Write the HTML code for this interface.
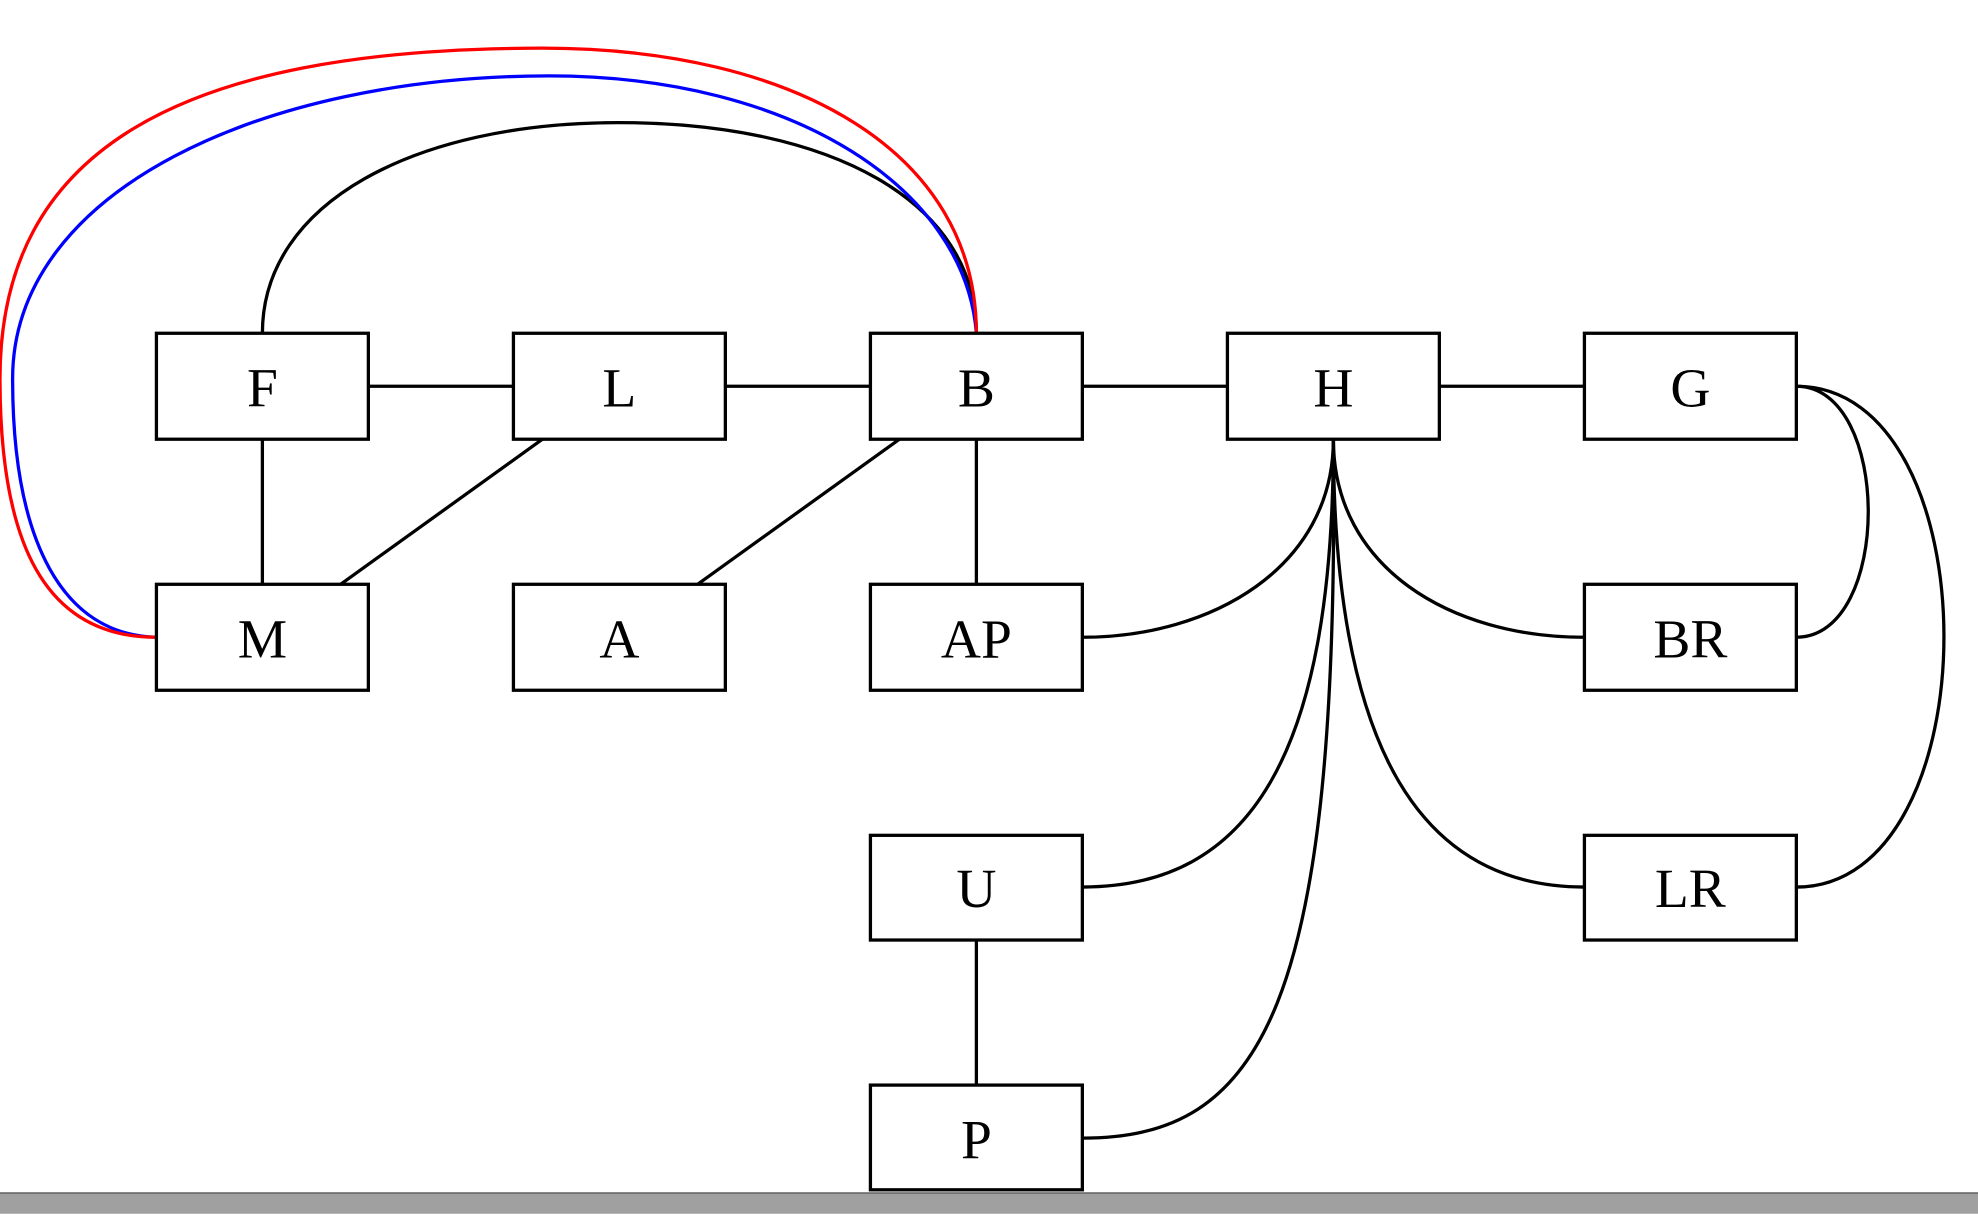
<!DOCTYPE html>
<html><head><meta charset="utf-8"><style>
html,body{margin:0;padding:0;background:#fff;width:1978px;height:1214px;overflow:hidden}
svg{display:block}
text{font-family:"Liberation Serif",serif;font-size:44px;text-anchor:middle;dominant-baseline:central}
</style></head><body>
<svg width="1978" height="1214" viewBox="0 0 1568 962" xmlns="http://www.w3.org/2000/svg">
<rect x="0" y="945" width="1568" height="17" fill="#a0a0a0"/>
<line x1="0" y1="945.5" x2="1568" y2="945.5" stroke="#555" stroke-width="1"/>
<g fill="none" stroke="#000" stroke-width="2.6">
<path d="M292,306H407M575,306H690M858,306H973M1141,306H1256"/>
<path d="M208,348V463M430,348L270,463M713,348L553,463M774,348V463M774,745V860"/>
<path d="M208,264C208,160 330,97 490,97C660,97 774,160 774,264"/>
<path d="M1057,348C1057,450 960,505 858,505"/>
<path d="M1057,348C1057,450 1150,505 1256,505"/>
<path d="M1057,348C1057,600 990,703 858,703"/>
<path d="M1057,348C1057,600 1130,703 1256,703"/>
<path d="M1057,348C1062,800 1000,902 858,902"/>
<path d="M1424,306C1500,306 1500,505 1424,505"/>
<path d="M1424,306C1580,306 1580,703 1424,703"/>
</g>
<path d="M774,264C765,150 630,60 435,60C210,60 10,150 10,300C10,430 50,503 124,505" fill="none" stroke="#00f" stroke-width="2.6"/>
<path d="M774,264C774,120 630,38 430,38C140,38 0,120 0,300C0,430 35,505 124,505" fill="none" stroke="#f00" stroke-width="2.6"/>
<g fill="#fff" stroke="#000" stroke-width="2.6">
<rect x="124" y="264" width="168" height="84"/>
<rect x="407" y="264" width="168" height="84"/>
<rect x="690" y="264" width="168" height="84"/>
<rect x="973" y="264" width="168" height="84"/>
<rect x="1256" y="264" width="168" height="84"/>
<rect x="124" y="463" width="168" height="84"/>
<rect x="407" y="463" width="168" height="84"/>
<rect x="690" y="463" width="168" height="84"/>
<rect x="1256" y="463" width="168" height="84"/>
<rect x="690" y="662" width="168" height="83"/>
<rect x="1256" y="662" width="168" height="83"/>
<rect x="690" y="860" width="168" height="83"/>
</g>
<g fill="#000">
<text x="208" y="308">F</text>
<text x="491" y="308">L</text>
<text x="774" y="308">B</text>
<text x="1057" y="308">H</text>
<text x="1340" y="308">G</text>
<text x="208" y="507">M</text>
<text x="491" y="507">A</text>
<text x="774" y="507">AP</text>
<text x="1340" y="507">BR</text>
<text x="774" y="705">U</text>
<text x="1340" y="705">LR</text>
<text x="774" y="904">P</text>
</g>
</svg>
</body></html>
